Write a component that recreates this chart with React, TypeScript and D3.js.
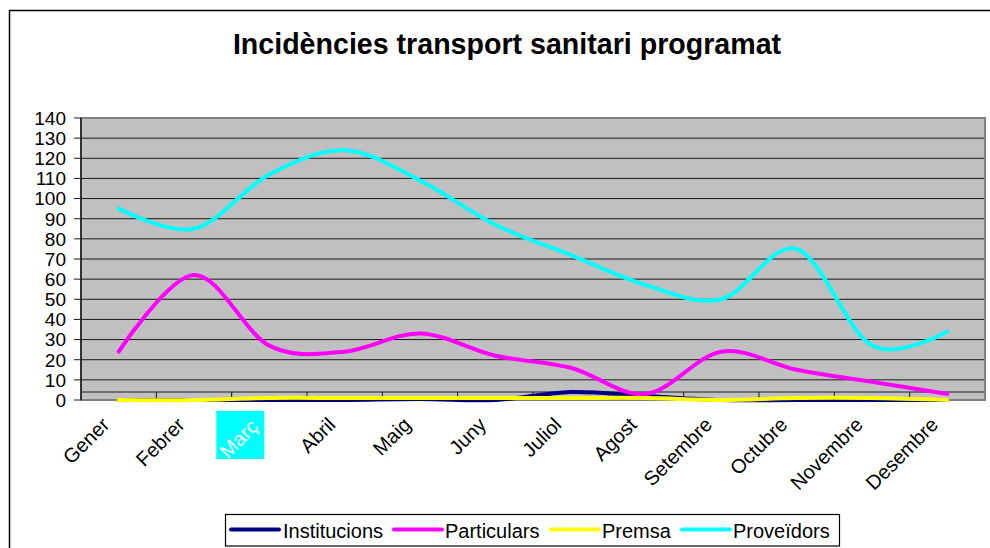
import React from "react";
import * as d3 from "d3";

const MONTHS = ["Gener", "Febrer", "Març", "Abril", "Maig", "Juny", "Juliol", "Agost", "Setembre", "Octubre", "Novembre", "Desembre"];
const INSTITUCIONS = [0, 0, 0, 0, 0.5, 0, 4, 2, 0, 0, 0, 0];
const PARTICULARS = [24, 62, 27, 24, 33, 22, 16, 3, 24, 15, 9, 3];
const PREMSA = [0, 0, 1, 1, 1, 1, 1, 1, 0, 1, 1, 0];
const PROVEIDORS = [95, 85, 112, 124, 109, 87, 72, 57, 50, 75, 27, 34];
const Y_TICKS = d3.range(0, 141, 10);

const SERIES = [
  { name: "Institucions", values: INSTITUCIONS, color: "#000080" },
  { name: "Particulars", values: PARTICULARS, color: "#ff00ff" },
  { name: "Premsa", values: PREMSA, color: "#ffff00" },
  { name: "Proveïdors", values: PROVEIDORS, color: "#00ffff" },
];

const FONT = "Arial, 'Liberation Sans', sans-serif";
const PLOT = { left: 81, right: 985, top: 118, bottom: 400 };
const AXIS_Y = 392;

export default function App() {
  const x = d3.scaleBand<string>().domain(MONTHS).range([PLOT.left, PLOT.right]);
  const y = d3.scaleLinear().domain([0, 140]).range([PLOT.bottom, PLOT.top]);
  const cx = (m: string) => (x(m) as number) + x.bandwidth() / 2;

  const line = d3
    .line<number>()
    .x((_, i) => cx(MONTHS[i]))
    .y((d) => y(d))
    .curve(d3.curveCardinal.tension(0));

  const boundaries = d3.range(0, MONTHS.length + 1).map((i) => PLOT.left + i * x.step());

  const legendItems = [
    { lx: 231, tx: 283 },
    { lx: 394, tx: 445 },
    { lx: 551, tx: 602 },
    { lx: 682, tx: 733 },
  ];

  return (
    <svg width={990} height={548} style={{ position: "absolute", left: 0, top: 0, background: "#fff" }} fontFamily={FONT}>
      <rect x={9.5} y={10.5} width={1000} height={600} fill="#fff" stroke="#000" strokeWidth={1.5} />

      <text x={507} y={54} textAnchor="middle" fontSize={28.6} fontWeight="bold" fill="#000">
        Incidències transport sanitari programat
      </text>

      {/* plot background */}
      <rect x={PLOT.left} y={PLOT.top} width={PLOT.right - PLOT.left} height={PLOT.bottom - PLOT.top} fill="#c0c0c0" />

      {/* grid lines */}
      {Y_TICKS.filter((t) => t > 0).map((t) => (
        <line key={t} x1={PLOT.left} x2={PLOT.right} y1={y(t)} y2={y(t)} stroke="#1a1a1a" strokeWidth={1} />
      ))}

      {/* category axis */}
      <line x1={PLOT.left} x2={PLOT.right} y1={AXIS_Y} y2={AXIS_Y} stroke="#1a1a1a" strokeWidth={1} />
      {boundaries.map((bx, i) => (
        <line key={i} x1={bx} x2={bx} y1={AXIS_Y} y2={PLOT.bottom} stroke="#1a1a1a" strokeWidth={1} />
      ))}

      <rect x={PLOT.left} y={PLOT.top} width={PLOT.right - PLOT.left} height={PLOT.bottom - PLOT.top} fill="none" stroke="#808080" strokeWidth={2} />

      {/* value axis */}
      <line x1={PLOT.left} x2={PLOT.left} y1={PLOT.top} y2={PLOT.bottom} stroke="#1a1a1a" strokeWidth={1.5} />
      {Y_TICKS.map((t) => (
        <g key={t}>
          <line x1={74} x2={PLOT.left} y1={y(t)} y2={y(t)} stroke="#1a1a1a" strokeWidth={1} />
          <text x={66} y={y(t)} dy="0.36em" textAnchor="end" fontSize={19} fill="#000">
            {t}
          </text>
        </g>
      ))}

      {/* series */}
      {SERIES.map((s) => (
        <path key={s.name} d={line(s.values) || ""} fill="none" stroke={s.color} strokeWidth={4} strokeLinecap="round" strokeLinejoin="round" />
      ))}

      {/* month labels */}
      {MONTHS.map((m) => {
        const px = cx(m);
        const selected = m === "Març";
        return (
          <g key={m}>
            {selected && <rect x={px - 53} y={411} width={48} height={48} fill="#00ffff" />}
            <text
              transform={`translate(${px - (selected ? 10 : 8)},${selected ? 428 : 426}) rotate(-45)`}
              textAnchor="end"
              fontSize={20}
              fill={selected ? "#fff" : "#000"}
            >
              {m}
            </text>
          </g>
        );
      })}

      {/* legend */}
      <rect x={225.5} y={514.5} width={614} height={31.5} fill="#fff" stroke="#000" strokeWidth={1.2} />
      {SERIES.map((s, i) => (
        <g key={s.name}>
          <line x1={legendItems[i].lx} x2={legendItems[i].lx + 48} y1={529.5} y2={529.5} stroke={s.color} strokeWidth={4} strokeLinecap="round" />
          <text x={legendItems[i].tx} y={537.5} fontSize={20} fill="#000">
            {s.name}
          </text>
        </g>
      ))}
    </svg>
  );
}
